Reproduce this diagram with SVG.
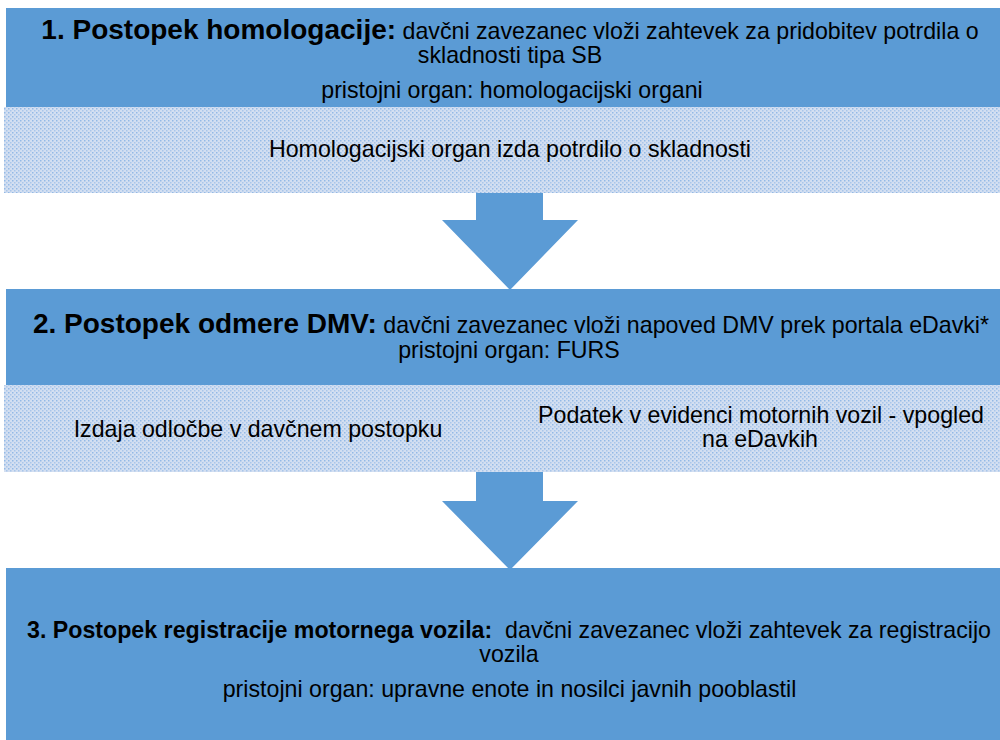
<svg xmlns="http://www.w3.org/2000/svg" width="1000" height="740" viewBox="0 0 1000 740">
<defs>
<pattern id="dots" width="4" height="4" patternUnits="userSpaceOnUse">
<rect width="4" height="4" fill="#D3DFF1"/>
<rect x="0" y="0" width="1.5" height="1.5" fill="#93B9E6"/>
<rect x="2" y="2" width="1.5" height="1.5" fill="#A9C6EA"/>
</pattern>
<style>
.blue{fill:#5B9BD5}
.dot{fill:url(#dots)}
text{font-family:"Liberation Sans",Arial,sans-serif;fill:#000;text-anchor:middle}
.r{font-size:23.2px}
.b{font-weight:bold;font-size:28px}
.b3{font-weight:bold;font-size:23.2px}
</style>
</defs>
<rect width="1000" height="740" fill="#fff"/>
<g id="connectors">
<polygon class="blue" points="476,192 543,192 543,220 578,220 510,290 442,220 476,220"/>
<polygon class="blue" points="476,471 543,471 543,501 578,501 510,570 442,501 476,501"/>
</g>
<g id="node1">
<rect class="blue" x="6" y="8" width="996" height="100"/>
<rect class="dot" x="4" y="107" width="998" height="86"/>
<text x="510" y="39"><tspan class="b">1. Postopek homologacije:</tspan><tspan class="r"> davčni zavezanec vloži zahtevek za pridobitev potrdila o</tspan></text>
<text class="r" x="510" y="63">skladnosti tipa SB</text>
<text class="r" x="512" y="98">pristojni organ: homologacijski organi</text>
<text class="r" x="510" y="157">Homologacijski organ izda potrdilo o skladnosti</text>
</g>
<g id="node2">
<rect class="blue" x="6" y="289" width="996" height="97"/>
<rect class="dot" x="4" y="385" width="998" height="87"/>
<text x="511" y="333"><tspan class="b">2. Postopek odmere DMV:</tspan><tspan class="r"> davčni zavezanec vloži napoved DMV prek portala eDavki*</tspan></text>
<text class="r" x="509" y="358">pristojni organ: FURS</text>
<text class="r" x="258" y="437">Izdaja odločbe v davčnem postopku</text>
<text class="r" x="761" y="423">Podatek v evidenci motornih vozil - vpogled</text>
<text class="r" x="760" y="447">na eDavkih</text>
</g>
<g id="node3">
<rect class="blue" x="6" y="568" width="996" height="174"/>
<text x="509" y="638" xml:space="preserve"><tspan class="b3">3. Postopek registracije motornega vozila:</tspan><tspan class="r">  davčni zavezanec vloži zahtevek za registracijo</tspan></text>
<text class="r" x="509" y="662">vozila</text>
<text class="r" x="509.5" y="697">pristojni organ: upravne enote in nosilci javnih pooblastil</text>
</g>
</svg>
